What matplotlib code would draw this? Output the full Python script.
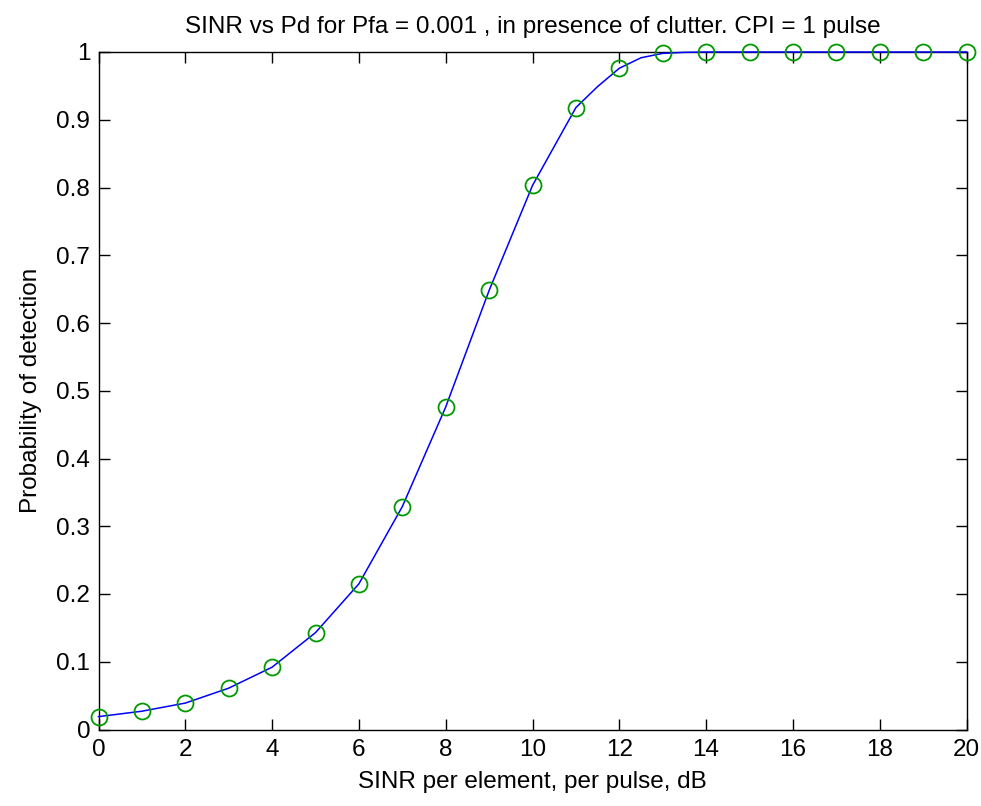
import matplotlib
matplotlib.use('Agg')
import matplotlib.pyplot as plt
from matplotlib.ticker import FuncFormatter

# SINR (dB) and probability of detection
sinr = [0, 1, 2, 3, 4, 5, 6, 7, 8, 9, 10, 11, 12, 13, 14, 15, 16, 17, 18, 19, 20]
pd_vals = [0.019, 0.027, 0.039, 0.061, 0.092, 0.143, 0.215, 0.329, 0.476, 0.648,
           0.803, 0.918, 0.976, 0.998, 1.0, 1.0, 1.0, 1.0, 1.0, 1.0, 1.0]

# the blue curve has a few extra points near the knee
curve_x = [0, 1, 2, 3, 4, 5, 6, 7, 8, 9, 10, 11, 11.5, 12, 12.5, 13, 13.5, 14, 15, 16, 17, 18, 19, 20]
curve_y = [0.019, 0.027, 0.039, 0.061, 0.092, 0.143, 0.215, 0.329, 0.476, 0.648,
           0.803, 0.918, 0.949, 0.976, 0.9915, 0.998, 0.9995, 1.0, 1.0, 1.0, 1.0, 1.0, 1.0, 1.0]

plt.rcParams['font.family'] = ['Liberation Sans', 'DejaVu Sans']
fs = 17.5

fig = plt.figure(figsize=(9.81, 8.06), dpi=100)
fig.patch.set_facecolor('white')
ax = fig.add_axes([98.5/981, (806-729.5)/806, 868/981, 677.5/806])

ax.plot(curve_x, curve_y, color='#0000ff', lw=1.1, clip_on=False, zorder=3)
ax.plot(sinr, pd_vals, 'o', mfc='none', mec='#009a00', mew=1.3, ms=11.5,
        clip_on=False, zorder=4)

ax.set_xlim(0, 20)
ax.set_ylim(0, 1)
ax.set_xticks(range(0, 21, 2))
ax.set_yticks([i/10 for i in range(11)])
ax.yaxis.set_major_formatter(FuncFormatter(lambda v, p: '%g' % round(v, 2)))
ax.tick_params(direction='in', length=8, width=1, top=True, right=True,
               labelsize=fs)
ax.tick_params(axis='x', pad=7)
ax.tick_params(axis='y', pad=6)
for s in ax.spines.values():
    s.set_linewidth(1)

ax.set_xlabel('SINR per element, per pulse, dB', fontsize=fs, labelpad=7)
ax.set_ylabel('Probability of detection', fontsize=fs, labelpad=10)
ax.set_title('SINR vs Pd for Pfa = 0.001 , in presence of clutter. CPI = 1 pulse',
             fontsize=fs, pad=14)

fig.savefig('out.png', dpi=100)
